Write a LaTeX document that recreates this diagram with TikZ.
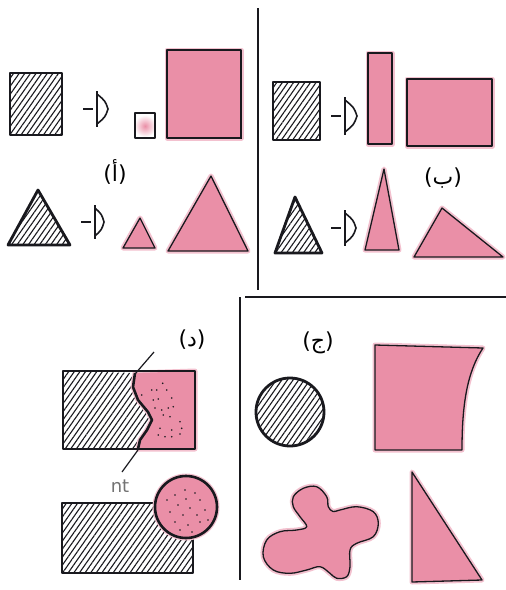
\documentclass[tikz,border=0pt]{standalone}
\usepackage{fontspec}
\setmainfont{DejaVu Sans}
\newfontfamily\arabicfont[Script=Arabic]{DejaVu Sans}
\usetikzlibrary{patterns.meta}
\definecolor{pinkc}{RGB}{234,143,167}
\definecolor{inkc}{RGB}{25,25,30}
\tikzset{
  hatch/.style={draw=inkc, line width=2.8pt, line join=round,
    pattern={Lines[angle=55,distance=4.6pt,line width=1.1pt]}, pattern color=inkc},
  pinkfill/.style={fill=pinkc, preaction={draw=pinkc!55, line width=5pt, line join=round}},
  thinout/.style={draw=inkc, line width=1.3pt, line join=round},
  divider/.style={draw=inkc, line width=2.6pt},
  lbl/.style={font=\fontsize{22}{26}\selectfont, inner sep=0pt},
  pics/eyesym/.style args={#1/#2}{code={
    \draw[inkc, line width=1.6pt] (-14,0) -- (-4,0);
    \draw[inkc, line width=1.8pt] (0,-#1) -- (0,#1);
    \draw[inkc, line width=1.6pt, line join=round] (0,-#1+3) .. controls (#2*0.75,-#1*0.45) .. (#2,0) .. controls (#2*0.75,#1*0.45) .. (0,#1-3);
  }},
  dot/.style={fill=inkc}
}
\begin{document}
\begin{tikzpicture}[x=1pt,y=-1pt]
\useasboundingbox[fill=white] (0,0) rectangle (506,590);

% dividers
\coordinate (v1a) at (258,8);
\coordinate (v1b) at (258,290);
\coordinate (v2a) at (240,297);
\coordinate (v2b) at (240,580);
\coordinate (h1a) at (245,297);
\coordinate (h1b) at (506,297);
\draw[divider] (v1a) -- (v1b);
\draw[divider] (v2a) -- (v2b);
\draw[divider, line width=2pt] (h1a) -- (h1b);

% ===== panel (أ) =====
\draw[hatch] (10,73) rectangle (62,135);
\pic at (97,109) {eyesym={18/11}};
\begin{scope}
  \clip (135,113) rectangle (155,138);
  \shade[inner color=pinkc, outer color=white] (145,126) circle (11pt);
\end{scope}
\draw[thinout] (135,113) rectangle (155,138);
\draw[pinkfill] (167,50) rectangle (241,138);
\draw[thinout] (167,50) rectangle (241,138);
\node[lbl] (la) at (115,172) {({\arabicfont أ})};
\draw[hatch] (38,190) -- (70,245) -- (8,245) -- cycle;
\pic at (95,222) {eyesym={17/9}};
\draw[pinkfill, thinout] (140,218) -- (155,248) -- (123,248) -- cycle;
\draw[pinkfill, thinout] (211,176) -- (248,251) -- (168,251) -- cycle;

% ===== panel (ب) =====
\draw[hatch] (273,82) rectangle (320,140);
\pic at (345,116) {eyesym={19/12}};
\draw[pinkfill, thinout] (368,53) rectangle (392,144);
\draw[pinkfill, thinout] (407,79) rectangle (492,146);
\node[lbl] (lb) at (443,178) {({\arabicfont ب})};
\draw[hatch] (295,197) -- (322,253) -- (275,253) -- cycle;
\pic at (345,228) {eyesym={18/11}};
\draw[pinkfill, thinout] (384,169) -- (399,250) -- (365,250) -- cycle;
\draw[pinkfill, thinout] (442,208) -- (503,257) -- (414,257) -- cycle;

% ===== panel (د) =====
\node[lbl] (ld) at (192,340) {({\arabicfont د})};
\path[hatch, draw=none] (63,371) -- (135,373) -- (133,387) -- (138,400) -- (148,412) -- (152,420) -- (147,430) -- (140,440) -- (138,449) -- (63,449) -- cycle;
\path[pinkfill] (135,373) -- (195,371) -- (195,449) -- (138,449) -- (140,440) -- (147,430) -- (152,420) -- (148,412) -- (138,400) -- (133,387) -- cycle;
\draw[inkc, line width=2.6pt, line join=round] (135,373) -- (133,387) -- (138,400) -- (148,412) -- (152,420) -- (147,430) -- (140,440) -- (138,449);
\draw[inkc, line width=2.8pt, line join=round] (63,371) rectangle (195,449);
\foreach \p in {(162.7,383.3),(156.7,390),(151.7,390),(166.7,390),(141.7,395),(158.3,399),(153.3,400),(171.7,398),(155,408),(161.7,410),(168.3,408),(173.3,406.7),(163.3,415),(170,416.7),(180,421.7),(160,428.3),(171.7,430),(181.7,428.3),(158.3,435),(165,436.7),(171.7,436.7),(180,434)}
  \fill[dot] \p circle (0.9pt);
\coordinate (ldt1) at (154,352);
\coordinate (ldt2) at (135,374);
\coordinate (ldb1) at (138,450);
\coordinate (ldb2) at (122,472);
\draw[inkc, line width=1.2pt] (ldt1) -- (ldt2);
\draw[inkc, line width=1.2pt] (ldb1) -- (ldb2);
\node[font=\fontsize{18}{20}\selectfont, text=black!55, inner sep=0pt] (lnt) at (120,486) {nt};
% lower rect with circle
\path[hatch, draw=none, even odd rule] (62,503) rectangle (193,573) (186,507) circle (31pt);
\draw[inkc, line width=2.8pt, line join=round] (156,503) -- (62,503) -- (62,573) -- (193,573) -- (193,537);
\draw[pinkfill] (186,507) circle (31pt);
\draw[inkc, line width=2.6pt] (186,507) circle (31pt);
\foreach \p in {(175,495),(185,490),(195,493),(200,500),(178,505),(190,508),(170,512),(183,515),(197,515),(205,510),(175,522),(188,525),(200,522),(180,530),(192,532),(167,500),(186,499),(208,520)}
  \fill[dot] \p circle (0.9pt);

% ===== panel (ج) =====
\node[lbl] (lj) at (318,343) {({\arabicfont ج})};
\draw[hatch] (290,412) circle (34pt);
\draw[pinkfill, thinout] (375,345) -- (483,348) .. controls (467,372) and (462,405) .. (462,450) -- (375,450) -- cycle;
\draw[pinkfill, thinout] plot[smooth cycle, tension=0.6] coordinates {(293.3,496.7) (303.3,488.3) (316.7,486.7) (326.7,496.7) (328.3,506.7) (333,511.5) (340,510) (356.7,506.7) (373.3,511.7) (378.3,523.3) (373.3,536.7) (356.7,543.3) (350,550) (350,566.7) (346.7,576.7) (336.7,578.3) (330,573.3) (320,566.7) (306.7,570) (290,573.3) (273.3,570) (263.3,556.7) (266.7,540) (280,531.7) (296.7,530) (306.7,526.7) (300,516.7) (293.3,506.7)};
\draw[pinkfill, thinout] (412,472) -- (482,580) -- (412,582) -- cycle;
\end{tikzpicture}
\end{document}
